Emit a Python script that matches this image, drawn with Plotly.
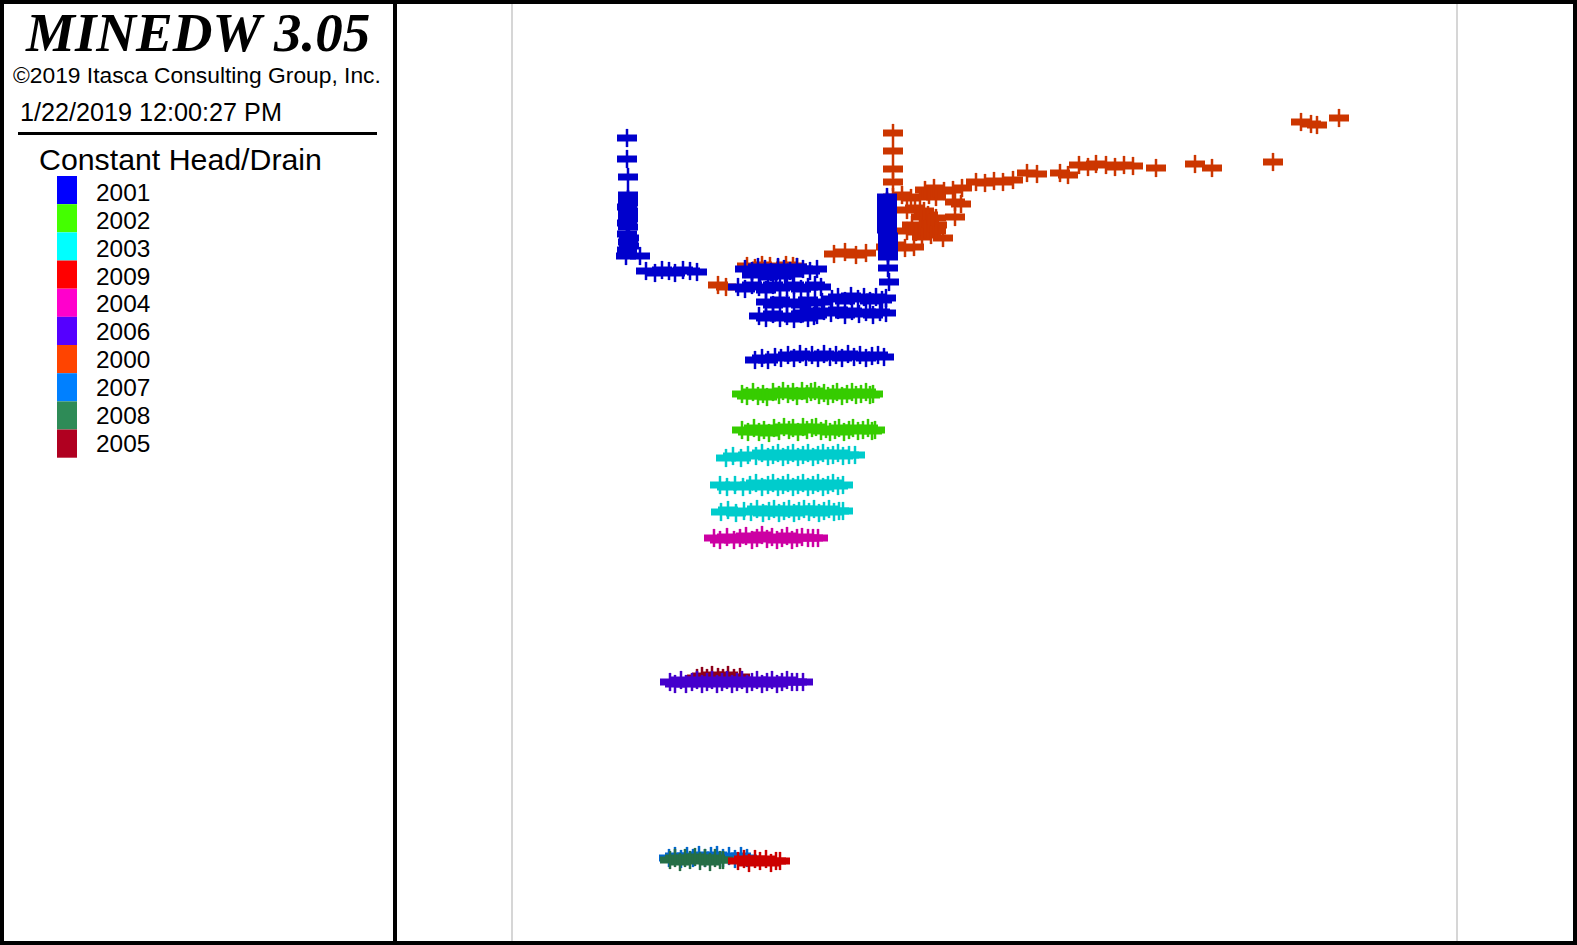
import plotly.graph_objects as go

W, H = 1577, 945

# ---------------- legend (left panel) ----------------
legend_years = ["2001", "2002", "2003", "2009", "2004", "2006", "2000", "2007", "2008", "2005"]
legend_colors = ["#0000FF", "#44FF00", "#00FFFF", "#FF0000", "#FF00CC",
                 "#5500FF", "#FF4400", "#0080FF", "#2E8B57", "#B00020"]

# colours used for the drawn cells (shaded versions of the legend colours)
draw_colors = {
    "2000": "#CC3600", "2001": "#0000CC", "2002": "#36CC00", "2003": "#00CCCC",
    "2004": "#CC00A3", "2005": "#8D001A", "2006": "#4400CC", "2007": "#0066CC",
    "2008": "#256F46", "2009": "#CC0000",
}

# ---------------- cell locations (model grid units, y downward) ----------------
x_2000 = [893, 893, 893, 893,
          925, 934, 944, 953, 962,
          893, 902, 911, 920, 929, 936,
          955, 961,
          907, 915, 924,
          921, 928, 936, 955,
          912, 920, 929, 937,
          907, 916, 925, 936,
          922, 931, 943,
          886, 895, 905, 914,
          834, 845, 856, 866,
          747, 755, 762, 770, 778, 786, 793, 797,
          718, 726,
          976, 985, 994, 1003, 1013, 1027, 1037, 1060, 1068, 1079, 1088, 1096, 1106,
          1115, 1124, 1133, 1156, 1195, 1212, 1273, 1301, 1311, 1317, 1339]
y_2000 = [133, 151, 169, 182,
          190, 188, 191, 190, 188,
          197, 195, 198, 197, 195, 197,
          202, 204,
          210, 208, 211,
          217, 215, 218, 217,
          225, 226, 223, 225,
          231, 232, 229, 231,
          237, 235, 238,
          247, 245, 248, 247,
          254, 252, 255, 253,
          266, 268, 265, 266, 268, 265, 266, 267,
          285, 287,
          182, 183, 181, 182, 180, 173, 174, 173, 175, 165, 167, 164, 165,
          167, 165, 166, 168, 164, 168, 162, 122, 124, 125, 118]

x_2001 = [627, 627, 628, 628, 628, 628, 627, 628, 628, 628, 627, 628,
          627, 629, 628, 629, 627, 626, 640,
          646, 655, 662, 669, 675, 683, 690, 697,
          887, 887, 887, 887, 887, 887, 887, 887, 887, 888, 888, 888, 888, 888, 888, 888, 889,
          745, 752, 758, 765, 771, 778, 784, 790, 797, 803, 810, 817,
          752, 760, 768, 776, 785, 793,
          738, 745, 752, 759, 766, 773, 780, 787, 794, 801, 808, 815, 821,
          832, 838, 845, 851, 858, 864, 870, 876, 882, 886,
          766, 773, 780, 787, 794, 801, 808, 815, 822,
          803, 810, 817, 824, 831, 838, 845, 852, 859, 866, 873, 880, 886,
          759, 766, 773, 780, 787, 794, 801, 808, 814,
          755, 762, 768, 775, 781, 788, 794, 800, 806, 812, 818, 824, 830, 836,
          842, 848, 854, 860, 866, 872, 878, 884]
y_2001 = [138, 159, 177, 195, 199, 203, 207, 211, 215, 219, 223, 227,
          234, 238, 242, 246, 250, 256, 256,
          271, 273, 270, 271, 273, 270, 271, 272,
          197, 201, 205, 209, 213, 217, 221, 226, 230, 236, 240, 245, 249, 253, 257, 268, 282,
          269, 271, 267, 269, 272, 267, 269, 271, 267, 269, 271, 269,
          275, 273, 277, 274, 276, 274,
          287, 289, 285, 287, 290, 285, 288, 287, 285, 289, 287, 285, 287,
          299, 297, 301, 296, 299, 297, 301, 297, 300, 298,
          302, 305, 300, 304, 302, 305, 300, 303, 302,
          313, 311, 315, 311, 313, 310, 315, 311, 314, 312, 315, 312, 313,
          316, 318, 314, 318, 316, 319, 314, 318, 316,
          360, 358, 360, 357, 358, 355, 358, 354, 357, 355, 358, 354, 357, 355,
          358, 354, 357, 355, 358, 356, 355, 357]

x_2002 = [742, 747, 753, 758, 763, 767, 773, 779, 783, 788, 793, 797, 802, 807, 811,
          815, 819, 824, 828, 833, 837, 842, 847, 852, 856, 861, 866, 870, 873,
          742, 748, 754, 759, 764, 769, 774, 779, 784, 789, 793, 798, 803, 807, 812,
          816, 821, 826, 830, 835, 839, 844, 849, 853, 858, 863, 868, 872, 875]
y_2002 = [394, 396, 392, 396, 394, 397, 392, 395, 391, 394, 392, 396, 391, 394, 392,
          391, 395, 393, 396, 394, 392, 396, 394, 392, 395, 394, 392, 395, 394,
          430, 432, 428, 432, 430, 433, 428, 431, 427, 430, 428, 432, 427, 430, 428,
          427, 431, 429, 432, 430, 428, 432, 430, 428, 431, 430, 428, 431, 430]

x_2003 = [726, 733, 741, 748, 756, 762, 768, 773, 778, 783, 788, 793, 798, 803,
          808, 813, 818, 823, 828, 833, 838, 843, 849, 855,
          720, 727, 735, 743, 750, 756, 762, 768, 773, 778, 783, 788, 793, 798,
          803, 808, 813, 818, 823, 828, 833, 838, 843,
          721, 728, 736, 744, 751, 757, 763, 769, 774, 779, 784, 789, 794, 799,
          804, 809, 814, 819, 824, 829, 834, 839, 843]
y_2003 = [458, 456, 458, 455, 456, 453, 457, 455, 453, 457, 455, 453, 457, 455,
          453, 457, 455, 453, 456, 455, 453, 456, 455, 455,
          485, 487, 485, 487, 485, 483, 487, 485, 483, 487, 485, 483, 487, 485,
          483, 487, 485, 483, 487, 485, 483, 486, 485,
          512, 510, 513, 511, 512, 509, 513, 511, 509, 513, 511, 509, 513, 511,
          509, 512, 509, 513, 511, 509, 512, 511, 511]

x_2004 = [714, 720, 727, 734, 740, 746, 752, 757, 762, 767, 772, 777, 782, 787,
          792, 797, 802, 808, 813, 818]
y_2004 = [538, 540, 537, 540, 538, 536, 540, 538, 535, 539, 537, 540, 538, 536,
          540, 538, 537, 538, 538, 538]

x_2005 = [697, 702, 707, 712, 718, 723, 728, 734, 740]
y_2005 = [678, 676, 678, 675, 677, 678, 675, 678, 677]

x_2006 = [670, 675, 681, 686, 692, 697, 702, 707, 712, 717, 722, 727, 732, 737,
          742, 747, 752, 757, 762, 767, 772, 777, 782, 787, 792, 797, 803]
y_2006 = [682, 684, 680, 684, 682, 680, 684, 682, 680, 684, 682, 680, 684, 682,
          680, 684, 682, 680, 684, 682, 680, 684, 682, 680, 682, 682, 682]

x_2007 = [669, 675, 681, 687, 693, 699, 705, 711, 717, 723, 729, 735, 741, 747]
y_2007 = [858, 856, 859, 856, 858, 855, 858, 856, 855, 858, 856, 859, 856, 858]

x_2008 = [670, 675, 680, 685, 690, 695, 700, 705, 710, 715, 720, 723]
y_2008 = [860, 858, 862, 858, 860, 857, 861, 858, 862, 858, 860, 860]

x_2009 = [738, 744, 749, 755, 760, 766, 771, 776, 780]
y_2009 = [861, 859, 863, 859, 861, 859, 863, 861, 861]

series = [("2000", x_2000, y_2000), ("2001", x_2001, y_2001), ("2002", x_2002, y_2002),
          ("2003", x_2003, y_2003), ("2004", x_2004, y_2004), ("2005", x_2005, y_2005),
          ("2006", x_2006, y_2006), ("2007", x_2007, y_2007), ("2008", x_2008, y_2008),
          ("2009", x_2009, y_2009)]

fig = go.Figure()
for name, xs, ys in series:
    c = draw_colors[name]
    fig.add_trace(go.Scatter(x=xs, y=ys, mode="markers", name=name, hoverinfo="skip",
                             marker=dict(symbol="line-ew", size=14.3,
                                         line=dict(width=7, color=c), color=c)))
    fig.add_trace(go.Scatter(x=xs, y=ys, mode="markers", name=name, hoverinfo="skip",
                             showlegend=False,
                             marker=dict(symbol="line-ns", size=13,
                                         line=dict(width=2.5, color=c), color=c)))

def px(v):
    return v / W

def py(v):
    return 1 - v / H

shapes = []
# model domain boundaries
for gx in (512, 1457):
    shapes.append(dict(type="line", xref="paper", yref="paper", x0=px(gx), x1=px(gx),
                       y0=py(4), y1=py(941), line=dict(color="#D6D6D6", width=2)))
# black frame and divider
for (x0, y0, x1, y1) in [(0, 0, 4, H), (0, 0, W, 4), (W - 4, 0, W, H), (0, H - 4, W, H),
                         (393, 0, 397, H)]:
    shapes.append(dict(type="rect", xref="paper", yref="paper", x0=px(x0), x1=px(x1),
                       y0=py(y1), y1=py(y0), fillcolor="black", line=dict(width=0)))
# separator line under the header
shapes.append(dict(type="line", xref="paper", yref="paper", x0=px(18), x1=px(377),
                   y0=py(133.5), y1=py(133.5), line=dict(color="black", width=3)))
# legend swatches
box_top, box_h = 176, 28.17
for i, col in enumerate(legend_colors):
    shapes.append(dict(type="rect", xref="paper", yref="paper", x0=px(57), x1=px(77),
                       y0=py(box_top + (i + 1) * box_h), y1=py(box_top + i * box_h),
                       fillcolor=col, line=dict(width=0)))

sans = "Liberation Sans, Arial, sans-serif"
ann = [
    dict(text="MINEDW 3.05", x=px(197), y=py(33), xanchor="center", yanchor="middle",
         font=dict(family="Liberation Serif, Times New Roman, serif", size=55,
                   weight="bold", style="italic", color="black")),
    dict(text="©2019 Itasca Consulting Group, Inc.", x=px(197), y=py(75),
         xanchor="center", yanchor="middle", font=dict(family=sans, size=22.8, color="black")),
    dict(text="1/22/2019 12:00:27 PM", x=px(18), y=py(112), xanchor="left",
         yanchor="middle", font=dict(family=sans, size=25.2, color="black")),
    dict(text="Constant Head/Drain", x=px(37), y=py(159), xanchor="left",
         yanchor="middle", font=dict(family=sans, size=30.3, color="black")),
]
for i, yr in enumerate(legend_years):
    ann.append(dict(text=yr, x=px(94), y=py(192.3 + i * 27.92), xanchor="left",
                    yanchor="middle", font=dict(family=sans, size=24.4, color="black")))
for a in ann:
    a.update(xref="paper", yref="paper", showarrow=False)

fig.update_layout(
    width=W, height=H, margin=dict(l=0, r=0, t=0, b=0, pad=0),
    paper_bgcolor="white", plot_bgcolor="white", showlegend=False,
    xaxis=dict(range=[0, W], visible=False, fixedrange=True),
    yaxis=dict(range=[H, 0], visible=False, fixedrange=True),
    shapes=shapes, annotations=ann,
)

fig.write_html("out.html", config={"displayModeBar": False},
               post_script="document.body.style.margin='0';document.body.style.overflow='hidden';")
